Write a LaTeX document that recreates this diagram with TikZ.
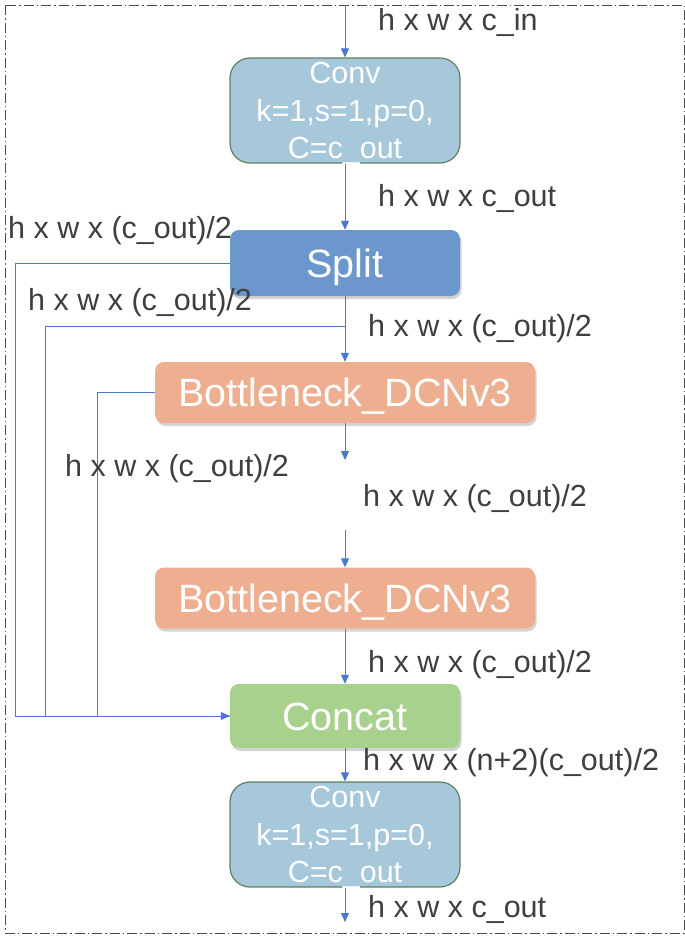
\documentclass[tikz,border=0pt]{standalone}
\usepackage{fontspec}
\setmainfont{Liberation Sans}
\usetikzlibrary{arrows.meta,shadows}
\definecolor{lineblue}{HTML}{4A78CC}
\definecolor{convfill}{HTML}{A6C8DA}
\definecolor{convdraw}{HTML}{5F8060}
\definecolor{splitfill}{HTML}{6B97CD}
\definecolor{bnfill}{HTML}{EEAE90}
\definecolor{catfill}{HTML}{A8D18D}
\definecolor{labgray}{HTML}{3F3F3F}
\begin{document}
\begin{tikzpicture}[x=1pt,y=-1pt,
  conn/.style={draw=lineblue,line width=1pt},
  arr/.style={conn,-{Triangle[width=8pt,length=9pt]}},
  lab/.style={anchor=west,inner sep=0pt,text=labgray,font=\fontsize{30.5}{36}\selectfont},
  convbox/.style={draw=convdraw,line width=1.2pt,fill=convfill,rounded corners=20pt,minimum width=230pt,minimum height=105pt,inner sep=0pt},
  convtxt/.style={text=white,align=center,inner sep=0pt,font=\fontsize{30.5}{37.5}\selectfont},
  blockbox/.style={rounded corners=9pt,inner sep=0pt,text=white,font=\fontsize{39.5}{44}\selectfont,
    text height=28pt,text depth=0pt,
    drop shadow={shadow xshift=1.5pt,shadow yshift=-3pt,opacity=0.35}},
  splitbox/.style={blockbox,fill=splitfill,minimum width=230pt,minimum height=66pt},
  bnbox/.style={blockbox,fill=bnfill,minimum width=380pt,minimum height=61pt},
  catbox/.style={blockbox,fill=catfill,minimum width=230pt,minimum height=64pt},
  frame/.style={draw=black!70,line width=0.9pt,dash pattern=on 10pt off 3pt on 1.5pt off 3pt}
]
\useasboundingbox (0,0) rectangle (685,938);
\draw[frame] (5,5) rectangle (684,933);

% nodes
\node[convbox] (conv1) at (345,110.5) {};
\node[convtxt] (conv1t) at (345,113.5) {Conv\\k=1,s=1,p=0,\\C=c\_out};
\node[splitbox] (split) at (345,263) {Split};
\node[bnbox] (bn1) at (345,392.5) {Bottleneck\_DCNv3};
\node[bnbox] (bn2) at (345,598) {Bottleneck\_DCNv3};
\node[catbox] (concat) at (345,716) {Concat};
\node[convbox] (conv2) at (345,834.5) {};
\node[convtxt] (conv2t) at (345,837.5) {Conv\\k=1,s=1,p=0,\\C=c\_out};

% free coordinates
\coordinate (in) at (345,5);
\coordinate (b1) at (345,326);
\coordinate (e1) at (345,460);
\coordinate (s2) at (345,530);
\coordinate (out) at (345,922);

% connectors
\draw[arr] (in) -- (conv1.north);
\draw[arr] (conv1.south) -- (split.north);
\draw[arr] (split.south) -- (bn1.north);
\draw[arr] (bn1.south) -- (e1);
\draw[arr] (s2) -- (bn2.north);
\draw[arr] (bn2.south) -- (concat.north);
\draw[arr] (concat.south) -- (conv2.north);
\draw[arr] (conv2.south) -- (out);
\draw[conn] (b1) -- (45,326) |- (concat.west);
\draw[conn] (bn1.west) -- (97,392.5) |- (concat.west);
\draw[arr] (split.west) -- (15,263) |- (concat.west);

% labels
\node[lab] (l1) at (378,22) {h x w x c\_in};
\node[lab] (l2) at (378,198) {h x w x c\_out};
\node[lab] (l3) at (8,231) {h x w x (c\_out)/2};
\node[lab] (l4) at (28,303) {h x w x (c\_out)/2};
\node[lab] (l5) at (368,329) {h x w x (c\_out)/2};
\node[lab] (l6) at (65,469) {h x w x (c\_out)/2};
\node[lab] (l7) at (363,499) {h x w x (c\_out)/2};
\node[lab] (l8) at (368,665) {h x w x (c\_out)/2};
\node[lab] (l9) at (363,763) {h x w x (n+2)(c\_out)/2};
\node[lab] (l10) at (368,909) {h x w x c\_out};
\end{tikzpicture}
\end{document}
